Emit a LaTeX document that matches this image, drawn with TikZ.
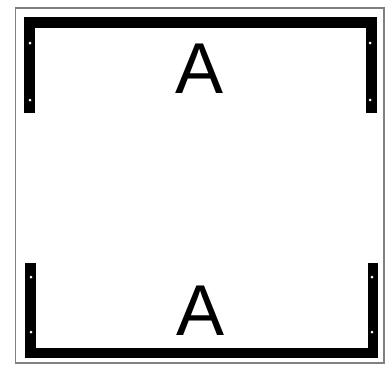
\documentclass[tikz,border=0pt]{standalone}
\usepackage{fontspec}
\setmainfont{Liberation Sans}
\usetikzlibrary{positioning}

\begin{document}
\begin{tikzpicture}[x=1pt, y=-1pt]

                % Area do desenho
                \useasboundingbox (0,0) rectangle (387,365);

                % Moldura externa
                \draw[gray, line width=1.2pt] (15.5,8) rectangle (384,363);

                % Suporte superior
                \draw[line width=11pt] (29.5,113) -- (29.5,22.5) -- (371.5,22.5) -- (371.5,113);

                % Suporte inferior
                \draw[line width=10.5pt] (30.5,263) -- (30.5,353) -- (373,353) -- (373,263);

                % Furos dos suportes
                \foreach \px/\py in {30/43, 30/100, 370/43, 370/100, 31/277, 31/332, 372/277, 372/332}
                    \fill[white] (\px,\py) circle (1.5pt);

                % Letras
                \node[anchor=base, inner sep=0pt, font=\fontsize{72}{72}\selectfont] (topA) at (200,93) {A};
                \node[anchor=base, inner sep=0pt, font=\fontsize{72}{72}\selectfont] (bottomA) at (201,335) {A};

\end{tikzpicture}
\end{document}
